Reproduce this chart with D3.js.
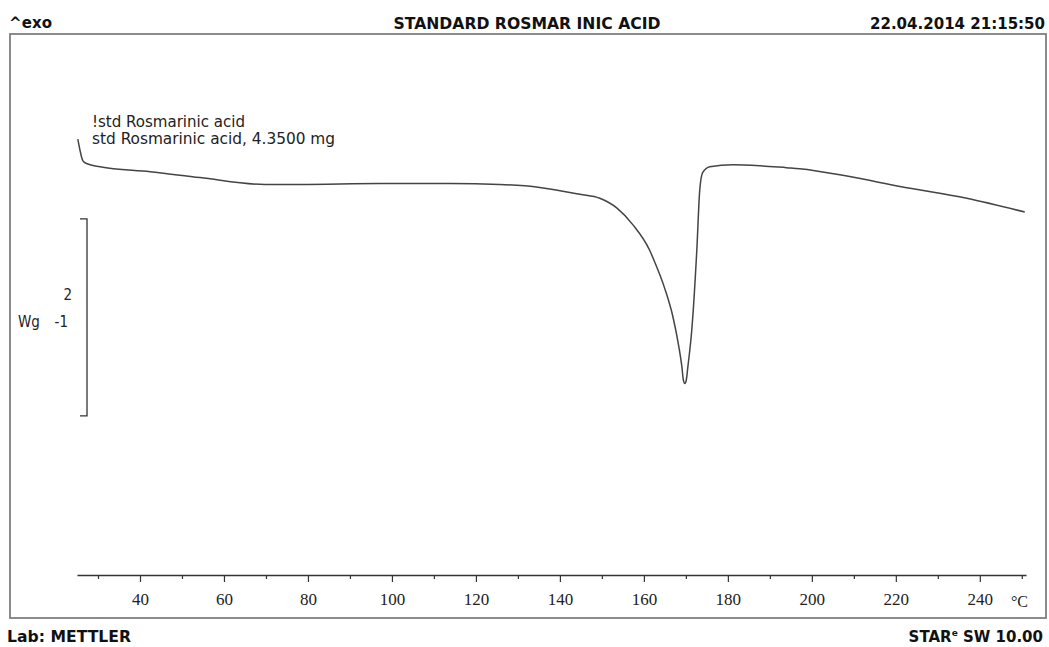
<!DOCTYPE html>
<html>
<head>
<meta charset="utf-8">
<script src="https://cdn.jsdelivr.net/npm/d3@7"></script>
<style>
  html, body { margin: 0; padding: 0; background: #fff; }
  svg { display: block; }
</style>
</head>
<body>
<svg id="chart" width="1049" height="647"></svg>
<script>
// DSC heating curve, heat flow (W/g, exo up) versus sample temperature (°C)
const temperature = [25.2, 25.7, 26.4, 27.4, 30.5, 42.4, 54.3, 69.8, 78.1, 97.1, 113.8, 125.7,
  135.2, 144.8, 149.5, 153.6, 157.4, 161.4, 162.6, 165.0, 166.9, 168.3, 169.05, 169.4, 169.76,
  170.1, 170.48, 171.4, 172.6, 173.3, 174.0, 175.7, 181.2, 187.6, 194.0, 197.1, 209.0, 221.0, 236.9, 250.7];
const heatFlow = [0.11, 0.00, -0.11, -0.14, -0.17, -0.22, -0.28, -0.35, -0.35, -0.34, -0.34, -0.35,
  -0.38, -0.45, -0.49, -0.59, -0.76, -1.02, -1.14, -1.41, -1.69, -1.99, -2.20, -2.335, -2.37,
  -2.335, -2.20, -1.83, -1.02, -0.41, -0.23, -0.17, -0.15, -0.16, -0.18, -0.19, -0.27, -0.37, -0.49, -0.63];

const majorTicks = [40, 60, 80, 100, 120, 140, 160, 180, 200, 220, 240];
const minorTicks = [30, 50, 70, 90, 110, 130, 150, 170, 190, 210, 230, 250];

const titleText = "STANDARD ROSMAR INIC ACID";
const dateText = "22.04.2014 21:15:50";
const curveNames = ["!std Rosmarinic acid", "std Rosmarinic acid, 4.3500 mg"];
const scaleBarSpan = 2;      // W/g shown by the scale bracket
const scaleBarTop = -0.70;   // W/g level of the bracket's upper end

const svg = d3.select("#chart");

const x = d3.scaleLinear().domain([25, 251]).range([77, 1026]);
const y = d3.scaleLinear().domain([0, -1]).range([150, 248.5]);

// header
const hdr = "'DejaVu Sans', Verdana, sans-serif";
svg.append("text").attr("x", 9).attr("y", 28)
  .style("font", `bold 15px ${hdr}`).attr("fill", "#111")
  .attr("textLength", 43).attr("lengthAdjust", "spacing").text("^exo");
svg.append("text").attr("x", 527).attr("y", 29).attr("text-anchor", "middle")
  .style("font", `bold 15px ${hdr}`).attr("fill", "#111")
  .attr("textLength", 267).attr("lengthAdjust", "spacingAndGlyphs").text(titleText);
svg.append("text").attr("x", 1045).attr("y", 29).attr("text-anchor", "end")
  .style("font", `bold 15px ${hdr}`).attr("fill", "#111")
  .attr("textLength", 175).attr("lengthAdjust", "spacingAndGlyphs").text(dateText);

// frame
svg.append("rect").attr("x", 10).attr("y", 34).attr("width", 1036).attr("height", 584)
  .attr("fill", "none").attr("stroke", "#777").attr("stroke-width", 1.7);

// footer
svg.append("text").attr("x", 7).attr("y", 642)
  .style("font", `bold 15px ${hdr}`).attr("fill", "#111")
  .attr("textLength", 124).attr("lengthAdjust", "spacingAndGlyphs").text("Lab: METTLER");
const star = svg.append("text").attr("x", 1043).attr("y", 642).attr("text-anchor", "end")
  .style("font", `bold 15px ${hdr}`).attr("fill", "#111");
star.append("tspan").text("STAR");
star.append("tspan").attr("dy", -6).style("font-size", "9px").text("e");
star.append("tspan").attr("dy", 6).text(" SW 10.00");

// temperature axis
const axisG = svg.append("g").attr("transform", "translate(0,575)");
axisG.call(d3.axisBottom(x).tickValues(majorTicks).tickSize(7).tickSizeOuter(0).tickFormat(d3.format("d")));
axisG.select(".domain").attr("stroke", "#333").attr("stroke-width", 1.3);
axisG.selectAll(".tick line").attr("stroke", "#333").attr("stroke-width", 1.2);
axisG.selectAll(".tick text")
  .style("font", "17px 'Liberation Serif', 'Times New Roman', serif")
  .attr("fill", "#222").attr("dy", "1.2em");
const minorG = svg.append("g").attr("transform", "translate(0,575)");
minorG.call(d3.axisBottom(x).tickValues(minorTicks).tickSize(4).tickSizeOuter(0).tickFormat(""));
minorG.select(".domain").remove();
minorG.selectAll(".tick line").attr("stroke", "#333").attr("stroke-width", 1.2);
svg.append("text").attr("x", 1028).attr("y", 607).attr("text-anchor", "end")
  .style("font", "16px 'Liberation Serif', 'Times New Roman', serif")
  .attr("fill", "#222").text("°C");

// heat-flow scale bracket
const yb0 = y(scaleBarTop), yb1 = y(scaleBarTop - scaleBarSpan);
svg.append("path")
  .attr("d", `M80,${yb0} H87 V${yb1} H80`)
  .attr("fill", "none").attr("stroke", "#333").attr("stroke-width", 1.3);
const lab = "15px 'DejaVu Sans Condensed', 'DejaVu Sans', sans-serif";
svg.append("text").attr("x", 72).attr("y", 300).attr("text-anchor", "end")
  .style("font", lab).attr("fill", "#222").text("2");
svg.append("text").attr("x", 18).attr("y", 327)
  .style("font", lab).attr("fill", "#222").text("Wg");
svg.append("text").attr("x", 68).attr("y", 327).attr("text-anchor", "end")
  .style("font", lab).attr("fill", "#222").text("-1");

// curve names
const nameFont = "16px 'DejaVu Sans Condensed', 'Liberation Sans', sans-serif";
const nameWidths = [153, 243];
curveNames.forEach((t, i) => {
  svg.append("text").attr("x", 92).attr("y", 127 + i * 17)
    .style("font", nameFont).attr("fill", "#222")
    .attr("textLength", nameWidths[i]).attr("lengthAdjust", "spacingAndGlyphs").text(t);
});

// DSC curve
const line = d3.line()
  .x((d, i) => x(temperature[i]))
  .y((d, i) => y(heatFlow[i]))
  .curve(d3.curveMonotoneX);
svg.append("path")
  .datum(heatFlow)
  .attr("d", line)
  .attr("fill", "none").attr("stroke", "#444").attr("stroke-width", 1.5);
</script>
</body>
</html>
